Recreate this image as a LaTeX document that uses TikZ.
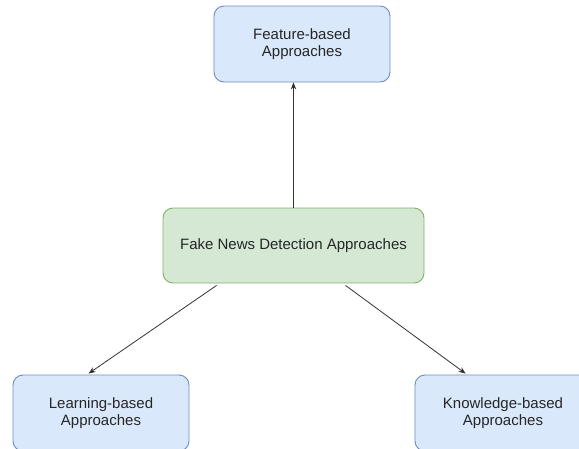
\documentclass[tikz,border=0pt]{standalone}
\usepackage{fontspec}
\setmainfont{Liberation Sans}
\usetikzlibrary{arrows.meta}
\definecolor{bluefill}{HTML}{DAE8FC}
\definecolor{blueline}{HTML}{6C8EBF}
\definecolor{greenfill}{HTML}{D5E8D4}
\definecolor{greenline}{HTML}{82B366}
\tikzset{
  box/.style={rounded corners=10pt, line width=0.9pt, minimum width=176pt,
    minimum height=76pt, align=center, inner sep=0pt,
    font=\fontsize{15}{17.5}\selectfont, text=black!85},
  bluebox/.style={box, fill=bluefill, draw=blueline},
  greenbox/.style={box, fill=greenfill, draw=greenline, minimum width=261pt, minimum height=75pt},
  link/.style={draw=black!80, line width=0.8pt, -{Stealth[length=7pt,width=5.5pt]}}
}
\begin{document}
\begin{tikzpicture}[x=1pt,y=-1pt]
  \useasboundingbox (0,0) rectangle (579,448);
  \clip (0,0) rectangle (579,448);
  \fill[white] (0,0) rectangle (579,448);
  \node[bluebox] (feature) at (302,44) {Feature-based\\Approaches};
  \node[greenbox] (core) at (293.5,245.5) {Fake News Detection Approaches};
  \node[bluebox] (learn) at (101,413) {Learning-based\\Approaches};
  \node[bluebox] (know) at (503,413) {Knowledge-based\\Approaches};
  \draw[link] (core.north) -- (core.north |- feature.south);
  \draw[link] ([xshift=54pt,yshift=-2pt]core.south west) -- ([xshift=76pt,yshift=1pt]learn.north west);
  \draw[link] ([xshift=183pt,yshift=-2pt]core.south west) -- ([xshift=51pt,yshift=1pt]know.north west);
\end{tikzpicture}
\end{document}
